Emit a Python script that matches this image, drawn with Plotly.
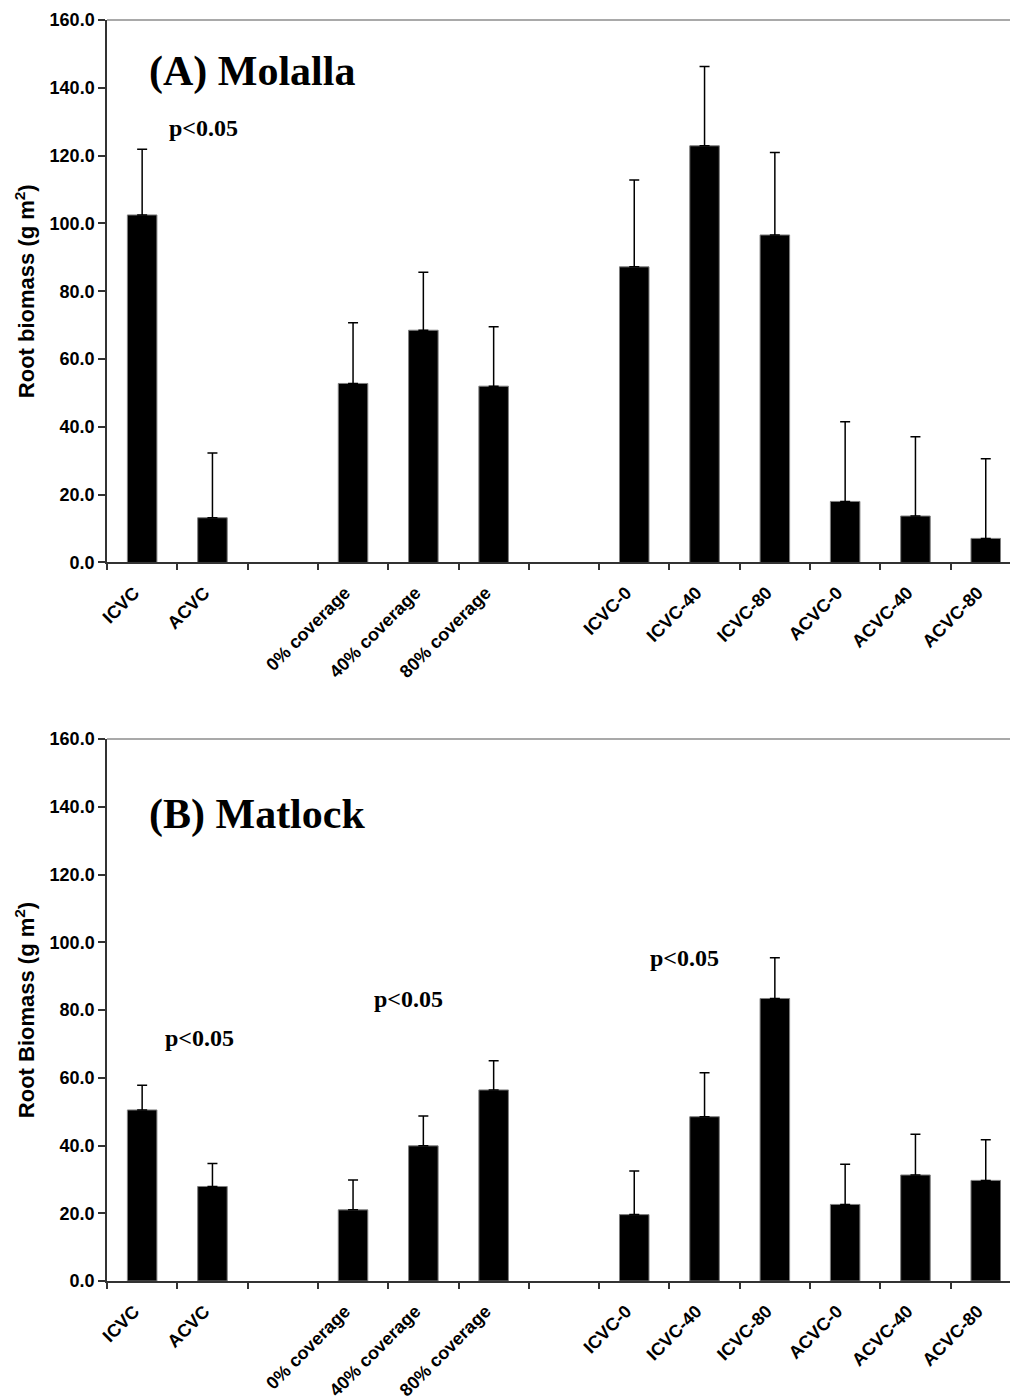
import plotly.graph_objects as go

# ---------------- data ----------------
categories = ["ICVC", "ACVC", " ", "0% coverage", "40% coverage", "80% coverage", "  ",
              "ICVC-0", "ICVC-40", "ICVC-80", "ACVC-0", "ACVC-40", "ACVC-80"]

molalla_mean = [102.5, 13.2, None, 52.8, 68.5, 52.0, None, 87.2, 122.9, 96.6, 18.0, 13.7, 7.1]
molalla_err = [19.4, 19.1, None, 17.9, 17.1, 17.5, None, 25.6, 23.4, 24.3, 23.5, 23.4, 23.5]

matlock_mean = [50.5, 27.9, None, 21.0, 39.9, 56.4, None, 19.6, 48.5, 83.4, 22.6, 31.3, 29.7]
matlock_err = [7.3, 6.8, None, 8.8, 8.8, 8.6, None, 12.9, 13.0, 12.0, 11.9, 12.0, 12.0]

y_ticks = [0, 20, 40, 60, 80, 100, 120, 140, 160]

panel_titles = ["(A) Molalla", "(B) Matlock"]
y_titles = ["Root biomass (g m<sup>2</sup>)", "Root Biomass (g m<sup>2</sup>)"]

# ---------------- styles ----------------
SANS = "Liberation Sans, Arial, sans-serif"
SERIF = "Liberation Serif, Times New Roman, serif"
AXIS_COL = "#333333"

fig = go.Figure()


def add_bars(mean, err, xa, ya):
    fig.add_trace(go.Bar(
        x=categories, y=mean, xaxis=xa, yaxis=ya, width=0.42,
        marker=dict(color="black", line=dict(color="#7f7f7f", width=1)),
        error_y=dict(type="data", array=[e if e is not None else 0 for e in err],
                     arrayminus=[0] * len(err), symmetric=False,
                     color="black", thickness=1.5, width=5),
        showlegend=False,
    ))


add_bars(molalla_mean, molalla_err, "x", "y")
add_bars(matlock_mean, matlock_err, "x2", "y2")

xaxis_common = dict(
    type="category", categoryorder="array", categoryarray=categories,
    range=[-0.5, 12.345], tickson="boundaries", ticks="outside", ticklen=6,
    tickcolor=AXIS_COL, tickwidth=1.5, showline=True, linecolor=AXIS_COL, linewidth=1.5,
    showgrid=False, zeroline=False, tickangle=-45, ticklabelstandoff=11,
    ticklabelshift=-8, automargin=False,
    tickfont=dict(family=SANS, size=18, color="black", weight="bold"),
)
yaxis_common = dict(
    range=[0, 160], tickvals=y_ticks, tickformat=".1f", ticks="outside", ticklen=7,
    tickcolor=AXIS_COL, tickwidth=1.5, showline=True, linecolor=AXIS_COL, linewidth=1.5,
    showgrid=False, zeroline=False, automargin=False,
    tickfont=dict(family=SANS, size=18, color="black", weight="bold"),
)
ytitle_font = dict(family=SANS, size=22, color="black", weight="bold")

fig.update_layout(
    width=1010, height=1399,
    margin=dict(l=107, r=0, t=20, b=118, autoexpand=False),
    paper_bgcolor="white", plot_bgcolor="white",
    bargap=0.5,
    xaxis=dict(domain=[0, 1], anchor="y", **xaxis_common),
    yaxis=dict(domain=[0.5698, 1], anchor="x",
               title=dict(text=y_titles[0], standoff=9, font=ytitle_font),
               **yaxis_common),
    xaxis2=dict(domain=[0, 1], anchor="y2", **xaxis_common),
    yaxis2=dict(domain=[0, 0.4298], anchor="x2",
                title=dict(text=y_titles[1], standoff=9, font=ytitle_font),
                **yaxis_common),
)

# top border of each plot area
for xr, yr in [("x", "y"), ("x2", "y2")]:
    fig.add_shape(type="line", xref=f"{xr} domain", yref=f"{yr} domain",
                  x0=0, x1=1, y0=1, y1=1, line=dict(color="#8c8c8c", width=1.5))

# panel titles
title_font = dict(family=SERIF, size=42, color="black", weight="bold")
fig.add_annotation(text=panel_titles[0], xref="x domain", yref="y", x=0.0444, y=144.7,
                   xanchor="left", yanchor="middle", showarrow=False, font=title_font)
fig.add_annotation(text=panel_titles[1], xref="x2 domain", yref="y2", x=0.0444, y=137.7,
                   xanchor="left", yanchor="middle", showarrow=False, font=title_font)

# significance labels
p_font = dict(family=SERIF, size=24, color="black", weight="bold")
fig.add_annotation(text="p<0.05", xref="x domain", yref="y", x=0.0664, y=128.2,
                   xanchor="left", yanchor="middle", showarrow=False, font=p_font)
for xd, yv in [(0.062, 71.8), (0.2935, 83.3), (0.599, 95.4)]:
    fig.add_annotation(text="p<0.05", xref="x2 domain", yref="y2", x=xd, y=yv,
                       xanchor="left", yanchor="middle", showarrow=False, font=p_font)

fig.write_html("out.html")
